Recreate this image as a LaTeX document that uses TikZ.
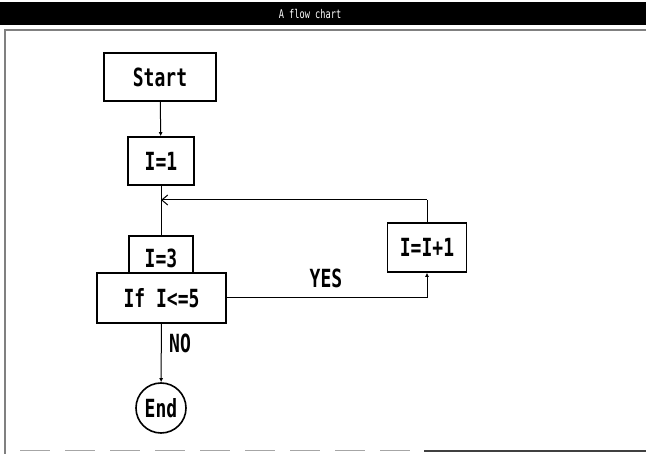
\documentclass[tikz,border=0pt]{standalone}
\usepackage{fontspec}
\newfontfamily\pix[FakeStretch=0.72]{DejaVu Sans Mono}
\usetikzlibrary{arrows.meta}
\begin{document}
\begin{tikzpicture}[x=1pt,y=-1pt,
  box/.style={draw,line width=1.6pt,fill=white,inner sep=0pt,font=\pix\bfseries\fontsize{25}{25}\selectfont},
  conn/.style={line width=1pt},
  tip/.style={-{Latex[length=4pt,width=4pt]}},
  lbl/.style={inner sep=0pt,font=\pix\bfseries\fontsize{25}{25}\selectfont}]
\useasboundingbox (0,0) rectangle (646,454);
% window title bar
\fill[black] (0,2) rectangle (646,25);
\node[text=white,inner sep=0pt,font=\pix\fontsize{12}{12}\selectfont] (title) at (310,14) {A flow chart};
\draw[gray,line width=1.5pt] (5,454) -- (5,30) -- (646,30);
\draw[black!35,line width=1pt,dash pattern=on 30pt off 15pt] (20,451) -- (424,451);
\draw[black!75,line width=1.5pt] (424,451) -- (646,451);
% nodes
\node[box,minimum width=112pt,minimum height=48pt] (start) at (160,77) {Start};
\node[box,minimum width=66pt,minimum height=48pt] (i1) at (161,161) {I=1};
\node[box,minimum width=64pt,minimum height=44pt] (i3) at (161,258) {I=3};
\node[box,minimum width=129pt,minimum height=50pt] (ifb) at (161.5,298) {If I<=5};
\node[box,minimum width=79pt,minimum height=49pt] (inc) at (427,247.5) {I=I+1};
\node[box,circle,minimum size=50pt] (end) at (161,408) {End};
\coordinate (j) at (161,200);
\coordinate (c1) at (inc.north |- j);
\coordinate (c2) at (inc.south |- ifb.east);
% labels
\node[lbl] (yes) at (326,278) {YES};
\node[lbl] (no) at (180,343) {NO};
% connectors
\draw[conn,tip] (start) -- (i1);
\draw[conn] (i1) -- (i3);
\draw[conn,tip] (ifb) -- (end);
\draw[conn] (ifb.east) -- (c2);
\draw[conn,tip] (c2) -- (inc.south);
\draw[conn] (inc.north) -- (c1);
\draw[conn,-{Straight Barb[length=6pt,width=10pt]}] (c1) -- (j);
\end{tikzpicture}
\end{document}
